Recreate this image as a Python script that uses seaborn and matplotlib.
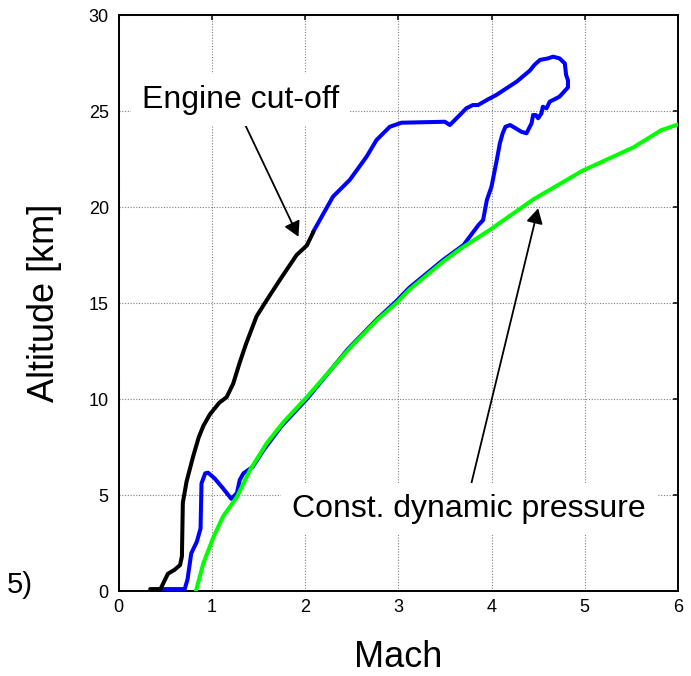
import matplotlib
matplotlib.use("Agg")
import matplotlib.pyplot as plt
import seaborn as sns

# Powered ascent (engine on): Mach number vs altitude [km]
mach_powered = [0.34, 0.45, 0.47, 0.53, 0.60, 0.66, 0.68, 0.69, 0.73, 0.80,
                0.86, 0.91, 0.98, 1.08, 1.16, 1.23, 1.30, 1.37, 1.48, 1.57,
                1.73, 1.91, 2.02, 2.09]
alt_powered = [0.1, 0.1, 0.3, 0.9, 1.1, 1.35, 1.8, 4.6, 5.7, 7.0,
               8.0, 8.6, 9.2, 9.8, 10.1, 10.8, 11.9, 12.9, 14.3, 15.0,
               16.2, 17.5, 18.0, 18.7]

# Flight trajectory (blue): low-altitude run, climb, loop and coast after cut-off
mach_flight = [0.48, 0.71, 0.74, 0.78, 0.84, 0.88, 0.89, 0.93, 0.96, 1.03,
               1.12, 1.21, 1.27, 1.30, 1.34, 1.44, 1.55, 1.75, 2.02, 2.46,
               2.77, 2.98, 3.12, 3.48, 3.70, 3.86, 3.91, 3.95, 4.00, 4.05,
               4.09, 4.12, 4.15, 4.20, 4.32, 4.375, 4.43, 4.446, 4.475, 4.50,
               4.536, 4.55, 4.59, 4.625, 4.66, 4.73, 4.82, 4.82, 4.80, 4.786,
               4.73, 4.66, 4.607, 4.52, 4.46, 4.41, 4.27, 4.16, 4.05, 3.96,
               3.856, 3.80, 3.73, 3.66, 3.553, 3.50, 3.035, 2.91, 2.767, 2.66,
               2.48, 2.30, 2.088]
alt_flight = [0.1, 0.1, 0.6, 1.96, 2.57, 3.26, 5.6, 6.13, 6.16, 5.87,
              5.35, 4.8, 5.1, 5.78, 6.13, 6.47, 7.3, 8.6, 10.0, 12.6,
              14.15, 15.1, 15.8, 17.24, 18.02, 19.06, 19.32, 20.36, 21.06, 22.28,
              23.32, 23.84, 24.18, 24.27, 23.92, 23.84, 24.36, 24.79, 24.79, 24.62,
              24.88, 25.22, 25.14, 25.49, 25.57, 25.75, 26.23, 26.6, 26.88, 27.48,
              27.74, 27.83, 27.74, 27.66, 27.4, 27.1, 26.53, 26.18, 25.83, 25.6,
              25.31, 25.31, 25.14, 24.79, 24.27, 24.44, 24.39, 24.18, 23.49, 22.62,
              21.41, 20.54, 18.71]

# Constant dynamic pressure boundary
mach_q = [0.83, 0.91, 1.02, 1.12, 1.27, 1.41, 1.59, 1.77, 2.02, 2.48,
          2.77, 2.98, 3.12, 3.48, 3.66, 3.98, 4.45, 4.98, 5.52, 5.82, 6.0]
alt_q = [0.0, 1.44, 2.83, 3.87, 4.9, 6.3, 7.7, 8.8, 10.1, 12.65,
         14.1, 15.0, 15.7, 17.15, 17.8, 18.8, 20.4, 21.9, 23.1, 24.0, 24.3]

x_ticks = [0, 1, 2, 3, 4, 5, 6]
y_ticks = [0, 5, 10, 15, 20, 25, 30]

# Annotation text anchors and arrow targets (data coordinates)
cutoff_text_xy = (1.308, 25.16)
cutoff_arrow_xy = (1.93, 18.45)
q_text_xy = (3.757, 3.87)
q_arrow_xy = (4.50, 19.93)

sns.set_style("white")
plt.rcParams["font.family"] = ["Liberation Sans", "DejaVu Sans"]
plt.rcParams["text.color"] = "black"
plt.rcParams["axes.labelcolor"] = "black"
plt.rcParams["xtick.color"] = "black"
plt.rcParams["ytick.color"] = "black"

W, H = 691, 676
fig = plt.figure(figsize=(W / 100, H / 100), dpi=100)
x0, x1, y0, y1 = 118.5, 678.0, 15.0, 591.0
ax = fig.add_axes([x0 / W, 1 - y1 / H, (x1 - x0) / W, (y1 - y0) / H])

lw = 2.9
sns.lineplot(x=mach_flight, y=alt_flight, sort=False, estimator=None,
             color="#0000ff", lw=lw, ax=ax, zorder=3)
sns.lineplot(x=mach_q, y=alt_q, sort=False, estimator=None,
             color="#00ff00", lw=lw, ax=ax, zorder=4)
sns.lineplot(x=mach_powered, y=alt_powered, sort=False, estimator=None,
             color="black", lw=lw, ax=ax, zorder=5)

ax.set_xlim(0, 6)
ax.set_ylim(0, 30)
ax.set_xticks(x_ticks)
ax.set_yticks(y_ticks)
ax.set_xticklabels([str(v) for v in x_ticks])
ax.set_yticklabels([str(v) for v in y_ticks])

ax.grid(True, color="#808080", linestyle=(0, (1, 1.5)), lw=0.8, zorder=0)
ax.set_axisbelow(True)
for s in ax.spines.values():
    s.set_visible(True)
    s.set_color("black")
    s.set_linewidth(1.4)

ax.tick_params(axis="both", which="major", direction="in", length=3.8,
               width=1.1, color="black", labelsize=13, labelcolor="black",
               top=True, right=True)
ax.tick_params(axis="x", pad=6)
ax.tick_params(axis="y", pad=7)

ax.set_xlabel("Mach", fontsize=26, color="black")
ax.xaxis.set_label_coords(0.5, (y1 - 667) / (y1 - y0))
ax.xaxis.label.set_va("baseline")
ax.set_ylabel("Altitude [km]", fontsize=26, color="black")
ax.yaxis.set_label_coords((45 - x0) / (x1 - x0), 0.5)
ax.yaxis.label.set_va("center")
ax.yaxis.label.set_ha("center")

box = dict(boxstyle="square,pad=0.35", fc="white", ec="none")
arrow = dict(arrowstyle="-|>,head_length=0.45,head_width=0.25",
             mutation_scale=20, color="black", lw=1.3,
             shrinkA=0, shrinkB=0)

ax.annotate("Engine cut-off", xy=cutoff_arrow_xy, xytext=cutoff_text_xy,
            textcoords="data", ha="center", va="baseline", fontsize=23,
            color="black", bbox=box,
            arrowprops=dict(arrow, relpos=(0.5, 0.0)), zorder=6)
ax.annotate("Const. dynamic pressure", xy=q_arrow_xy, xytext=q_text_xy,
            textcoords="data", ha="center", va="baseline", fontsize=23,
            color="black", bbox=box,
            arrowprops=dict(arrow, relpos=(0.5, 1.0)), zorder=6)

fig.text(33 / W, 1 - 593 / H, "5)", ha="right", va="baseline", fontsize=21,
         color="black")

fig.savefig("out.png", dpi=100)
